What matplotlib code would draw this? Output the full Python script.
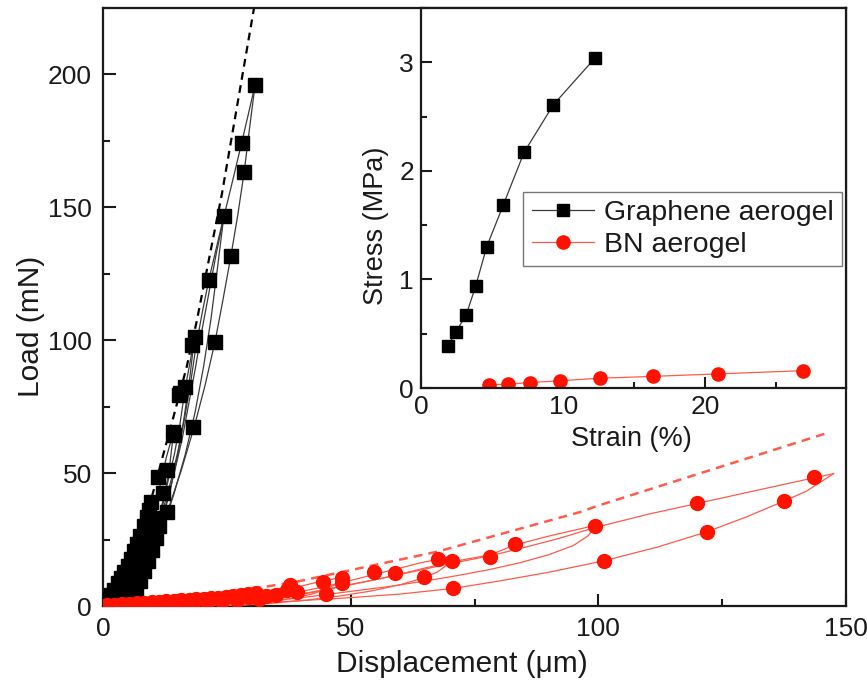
import matplotlib
matplotlib.use("Agg")
import matplotlib.pyplot as plt
from matplotlib.ticker import MultipleLocator

plt.rcParams['font.family'] = ['Liberation Sans', 'DejaVu Sans']

# ---------------- main panel: load vs displacement ----------------
# Graphene aerogel, virgin loading curve and cyclic unload / reload branches
gr_envelope_x = [0, 1.5, 3, 4.5, 6, 7.5, 9.6]
gr_envelope_y = [0, 4, 8.5, 13.5, 19.5, 26.5, 38]
gr_unload1_x = [9.6, 8.9, 8.0, 6.9, 5.7, 4.6, 3.6, 3.2]
gr_unload1_y = [38, 30, 22, 14, 7.5, 3, 0.5, 0]
gr_reload2_x = [3.2, 4.6, 6, 7.5, 9, 10.4, 11.6, 12.8, 14.3]
gr_reload2_y = [0, 5, 11, 18.5, 27, 36.5, 46, 56, 66]
gr_unload2_x = [14.3, 13.4, 12.3, 11.0, 9.5, 8.0, 6.5, 5.2, 4.4]
gr_unload2_y = [66, 52, 40, 29, 19, 11, 5, 1.2, 0]
gr_reload3_x = [4.4, 5.8, 7.2, 8.7, 10.2, 11.6, 13, 14.4, 15.5, 16.6, 18.4]
gr_reload3_y = [0, 5, 11, 18.5, 27, 36, 46, 57, 68, 82, 100]
gr_unload3_x = [18.4, 17.4, 16.3, 15.0, 13.5, 11.8, 10.0, 8.3, 6.8, 5.6, 4.8]
gr_unload3_y = [100, 84, 70, 56, 43, 31, 20, 11, 4.5, 1, 0]
gr_reload4_x = [4.8, 6.3, 7.8, 9.3, 10.8, 12.3, 13.7, 15.1, 16.4, 17.6, 18.8, 20.2, 21.4, 24.4]
gr_reload4_y = [0, 5.5, 12, 19.5, 28, 37.5, 47, 58, 70, 83, 98, 112, 123, 146.7]
gr_unload4_x = [24.4, 23.1, 21.8, 20.3, 18.6, 16.6, 14.3, 11.9, 10.2, 8.6, 7.0, 5.8, 5.0]
gr_unload4_y = [146.7, 127, 108, 90, 73, 57, 42, 28.5, 19.5, 11.5, 4.8, 1.2, 0]
gr_reload5_x = [5.0, 6.6, 8.2, 9.8, 11.4, 13, 14.5, 16, 17.3, 18.6, 19.8, 21.3, 22.8,
                24.6, 26.3, 28.0, 30.7]
gr_reload5_y = [0, 6, 13, 21, 30, 40, 51, 63, 76, 89, 102, 117, 132,
                148, 161, 174.3, 196]
gr_unload5_x = [30.7, 29.6, 28.5, 27.2, 25.8, 24.2, 22.6, 20.6, 18.4, 15.8, 13.0,
                11.4, 9.8, 7.8, 6.5, 5.5]
gr_unload5_y = [196, 180, 163.3, 147, 131.5, 115, 99.3, 83, 67.3, 51, 35.5,
                26, 17.3, 7.3, 2.5, 0]
gr_fit_x = [0, 5, 10, 14.2, 16.9, 18.9, 24, 30.4, 31.2]
gr_fit_y = [0, 18, 42, 71, 90, 107, 155, 224, 232]
gr_sym_x = [30.7, 28.0, 28.5, 24.4, 25.9, 21.3, 18.6, 17.9, 22.6, 16.6, 15.6, 15.4,
            18.2, 14.2, 14.3, 11.2, 12.9, 12.2, 9.6, 9.2, 13.0,
            0.4, 1.0, 1.6, 2.3, 3.0, 3.6, 4.3, 5.0, 5.6, 6.3, 6.9, 7.5, 8.2, 8.8,
            4.6, 5.4, 6.2, 7.0, 7.8, 8.5, 9.3, 10.0, 10.8,
            6.6, 7.4, 8.2, 9.0, 9.8, 10.6, 11.4, 3.4, 4.2, 2.2]
gr_sym_y = [195.9, 174.3, 163.3, 146.7, 131.6, 122.7, 101.2, 98.1, 99.4, 82.4, 80.0, 79.3,
            67.2, 65.5, 64.3, 48.6, 51.1, 42.4, 39.2, 36.1, 35.5,
            0.8, 2.5, 4.3, 6.2, 8.5, 10.4, 12.8, 15.2, 17.7, 20.6, 23.5, 26.5, 30.0, 33.5,
            5.0, 8.0, 11.0, 14.5, 18.0, 21.5, 25.0, 29.0, 33.0,
            6.0, 9.5, 13.0, 17.0, 21.0, 25.5, 30.0, 2.0, 4.0, 1.5]

# BN aerogel
bn_envelope_x = [0, 5, 10, 15, 20, 25, 30, 35, 38.5]
bn_envelope_y = [0, 0.3, 0.8, 1.5, 2.4, 3.5, 4.8, 6.4, 7.6]
bn_unload1_x = [38.5, 37.5, 35.5, 32, 27, 21, 16]
bn_unload1_y = [7.6, 5.6, 3.9, 2.4, 1.1, 0.3, 0]
bn_reload2_x = [16, 21, 27, 32, 36.5, 40, 44, 48.5]
bn_reload2_y = [0, 0.9, 2.2, 3.9, 5.8, 7.5, 9.3, 10.9]
bn_unload2_x = [48.5, 47.2, 45.1, 42, 38, 32, 26, 20]
bn_unload2_y = [10.9, 8.4, 6.3, 4.4, 2.8, 1.3, 0.4, 0]
bn_reload3_x = [20, 26, 32, 38, 44, 48.5, 54.6, 60, 64, 67.7, 70.5]
bn_reload3_y = [0, 1.2, 2.8, 4.7, 7.0, 8.9, 11.8, 14.3, 16.2, 17.6, 18.7]
bn_unload3_x = [70.5, 69.5, 67.5, 64.8, 60, 54, 48, 41, 34, 27, 24]
bn_unload3_y = [18.7, 15.5, 12.8, 10.6, 8.0, 5.6, 3.8, 2.2, 1.0, 0.2, 0]
bn_reload4_x = [24, 30, 36, 42, 48.2, 55, 60, 65, 70.4, 78.2, 83.2, 90, 99.5]
bn_reload4_y = [0, 1.4, 3.0, 5.0, 7.3, 9.9, 12.0, 14.3, 16.6, 19.3, 23.0, 26.3, 30.4]
bn_unload4_x = [99.5, 98, 95, 90, 84, 78, 72, 65, 58, 50, 43, 36, 30, 25, 22]
bn_unload4_y = [30.4, 26.5, 22.8, 19.3, 16.2, 13.7, 11.6, 9.4, 7.4, 5.5, 3.8, 2.3, 1.1, 0.3, 0]
bn_reload5_x = [22, 28, 35, 42, 48.5, 56, 63, 70, 78.2, 85, 92, 99.5, 110, 120, 130,
                140, 147.5]
bn_reload5_y = [0, 1.3, 3.0, 5.2, 7.6, 10.3, 13.1, 15.9, 18.9, 22.0, 25.4, 29.6, 34.5,
                38.6, 42.7, 46.8, 49.8]
bn_unload5_x = [147.5, 142, 137.4, 130, 121.9, 112, 101.1, 90, 80, 70.6, 60, 48, 36,
                28, 22]
bn_unload5_y = [49.8, 43.2, 39.4, 33.6, 27.9, 22.2, 17.0, 12.7, 9.4, 6.6, 4.5, 2.9, 1.6,
                0.6, 0]
bn_fit_x = [0, 20, 39, 50, 67.4, 96.4, 99.7, 146.2]
bn_fit_y = [0, 3.5, 9.1, 13.5, 20.4, 35.4, 37.6, 65.1]
bn_sym_x = [0.8, 2.3, 3.8, 5.3, 6.8, 8.3, 9.8, 11.3, 12.8, 14.3, 15.8, 17.3, 18.8,
            20.3, 21.8, 23.3, 24.8, 26.3, 27.8, 29.3, 30.8, 18.0, 21.0, 24.0, 27.0,
            29.5, 31.5, 33.0, 35.0, 37.2, 37.8, 39.1, 44.5, 45.1, 48.2, 48.2, 54.8,
            58.9, 64.8, 67.7, 70.4, 70.6, 78.2, 83.2, 99.4, 101.1, 119.9, 121.9,
            137.4, 143.6]
bn_sym_y = [0.3, 0.5, 0.7, 0.9, 1.1, 1.3, 1.5, 1.6, 1.8, 1.9, 2.1, 2.3, 2.5,
            2.7, 2.9, 3.1, 3.4, 3.7, 4.0, 4.4, 4.8, 0.8, 1.2, 1.8, 2.3,
            3.2, 2.7, 3.6, 4.3, 6.0, 7.9, 5.4, 9.1, 4.5, 10.4, 8.5, 12.9,
            12.3, 11.0, 17.6, 16.9, 6.6, 18.5, 23.3, 30.1, 17.0, 38.6, 27.9,
            39.4, 48.6]

# ---------------- inset: stress vs strain at each cycle ----------------
ins_gr_strain = [1.92, 2.46, 3.17, 3.85, 4.62, 5.8, 7.25, 9.32, 12.25]
ins_gr_stress = [0.39, 0.52, 0.67, 0.94, 1.30, 1.69, 2.17, 2.61, 3.04]
ins_bn_strain = [4.8, 6.1, 7.7, 9.8, 12.6, 16.3, 20.9, 26.9]
ins_bn_stress = [0.03, 0.035, 0.05, 0.067, 0.09, 0.107, 0.13, 0.16]

BLACK = '#000000'
GLINE = '#3a3a3a'
RED = '#ff1200'
RLINE = '#ff5a4a'
TXT = '#1a1a1a'

fig = plt.figure(figsize=(8.67, 6.8), dpi=100)
ax = fig.add_axes([103 / 867, 1 - 606 / 680, 743 / 867, 598 / 680])

gr_branches = [
    (gr_envelope_x, gr_envelope_y), (gr_unload1_x, gr_unload1_y),
    (gr_reload2_x, gr_reload2_y), (gr_unload2_x, gr_unload2_y),
    (gr_reload3_x, gr_reload3_y), (gr_unload3_x, gr_unload3_y),
    (gr_reload4_x, gr_reload4_y), (gr_unload4_x, gr_unload4_y),
    (gr_reload5_x, gr_reload5_y), (gr_unload5_x, gr_unload5_y),
]
for bx, by in gr_branches:
    ax.plot(bx, by, color=GLINE, lw=0.9, zorder=2)
ax.plot(gr_fit_x, gr_fit_y, color=BLACK, lw=1.6, ls=(0, (3.5, 2.5)), zorder=2)
ax.plot(gr_sym_x, gr_sym_y, ls='none', marker='s', ms=9.5, color=BLACK, mec=BLACK,
        zorder=3)

bn_branches = [
    (bn_envelope_x, bn_envelope_y), (bn_unload1_x, bn_unload1_y),
    (bn_reload2_x, bn_reload2_y), (bn_unload2_x, bn_unload2_y),
    (bn_reload3_x, bn_reload3_y), (bn_unload3_x, bn_unload3_y),
    (bn_reload4_x, bn_reload4_y), (bn_unload4_x, bn_unload4_y),
    (bn_reload5_x, bn_reload5_y), (bn_unload5_x, bn_unload5_y),
]
for bx, by in bn_branches:
    ax.plot(bx, by, color=RLINE, lw=0.9, zorder=4)
ax.plot(bn_fit_x, bn_fit_y, color=RLINE, lw=1.8, ls=(0, (3.5, 2.5)), zorder=4)
ax.plot(bn_sym_x, bn_sym_y, ls='none', marker='o', ms=10, color=RED, mec=RED, zorder=5)

ax.set_xlim(0, 150)
ax.set_ylim(0, 225)
ax.xaxis.set_major_locator(MultipleLocator(50))
ax.xaxis.set_minor_locator(MultipleLocator(25))
ax.yaxis.set_major_locator(MultipleLocator(50))
ax.yaxis.set_minor_locator(MultipleLocator(25))
ax.tick_params(which='both', direction='in', top=False, right=False,
               colors=TXT, labelsize=19, width=1.5)
ax.tick_params(which='major', length=9, pad=8)
ax.tick_params(which='minor', length=5)
for s in ax.spines.values():
    s.set_linewidth(1.6)
    s.set_color(TXT)
ax.set_xlabel('Displacement (\u03bcm)', fontsize=21.5, color=TXT)
ax.set_ylabel('Load (mN)', fontsize=21.5, color=TXT)
ax.xaxis.set_label_coords(0.483, -0.073)
ax.yaxis.set_label_coords(-0.078, 0.467)

# inset
ins = fig.add_axes([421 / 867, 1 - 388 / 680, 425 / 867, 380 / 680])
ins.set_facecolor('white')
ins.plot(ins_gr_strain, ins_gr_stress, color=GLINE, lw=0.9, marker='s', ms=9,
         mfc=BLACK, mec=BLACK, label='Graphene aerogel')
ins.plot(ins_bn_strain, ins_bn_stress, color=RLINE, lw=0.9, marker='o', ms=9.5,
         mfc=RED, mec=RED, label='BN aerogel')
ins.set_xlim(0, 29.9)
ins.set_ylim(0, 3.5)
ins.xaxis.set_major_locator(MultipleLocator(10))
ins.xaxis.set_minor_locator(MultipleLocator(5))
ins.yaxis.set_major_locator(MultipleLocator(1))
ins.yaxis.set_minor_locator(MultipleLocator(0.5))
ins.tick_params(which='both', direction='in', top=False, right=False,
                colors=TXT, labelsize=19, width=1.5)
ins.tick_params(which='major', length=8, pad=5)
ins.tick_params(which='minor', length=4.5)
for s in ins.spines.values():
    s.set_linewidth(1.6)
    s.set_color(TXT)
ins.set_xlabel('Strain (%)', fontsize=19.5, color=TXT)
ins.set_ylabel('Stress (MPa)', fontsize=19.5, color=TXT)
ins.xaxis.set_label_coords(0.494, -0.1)
ins.yaxis.set_label_coords(-0.075, 0.426)
leg = ins.legend(loc='upper left', bbox_to_anchor=(0.24, 0.517), borderaxespad=0,
                 fontsize=20.5, frameon=True, fancybox=False, handlelength=2.2,
                 handletextpad=0.35, borderpad=0.3, labelspacing=0.2)
leg.get_frame().set_edgecolor('#555555')
leg.get_frame().set_linewidth(1.0)
for t in leg.get_texts():
    t.set_color(TXT)

fig.savefig('out.png', dpi=100)
